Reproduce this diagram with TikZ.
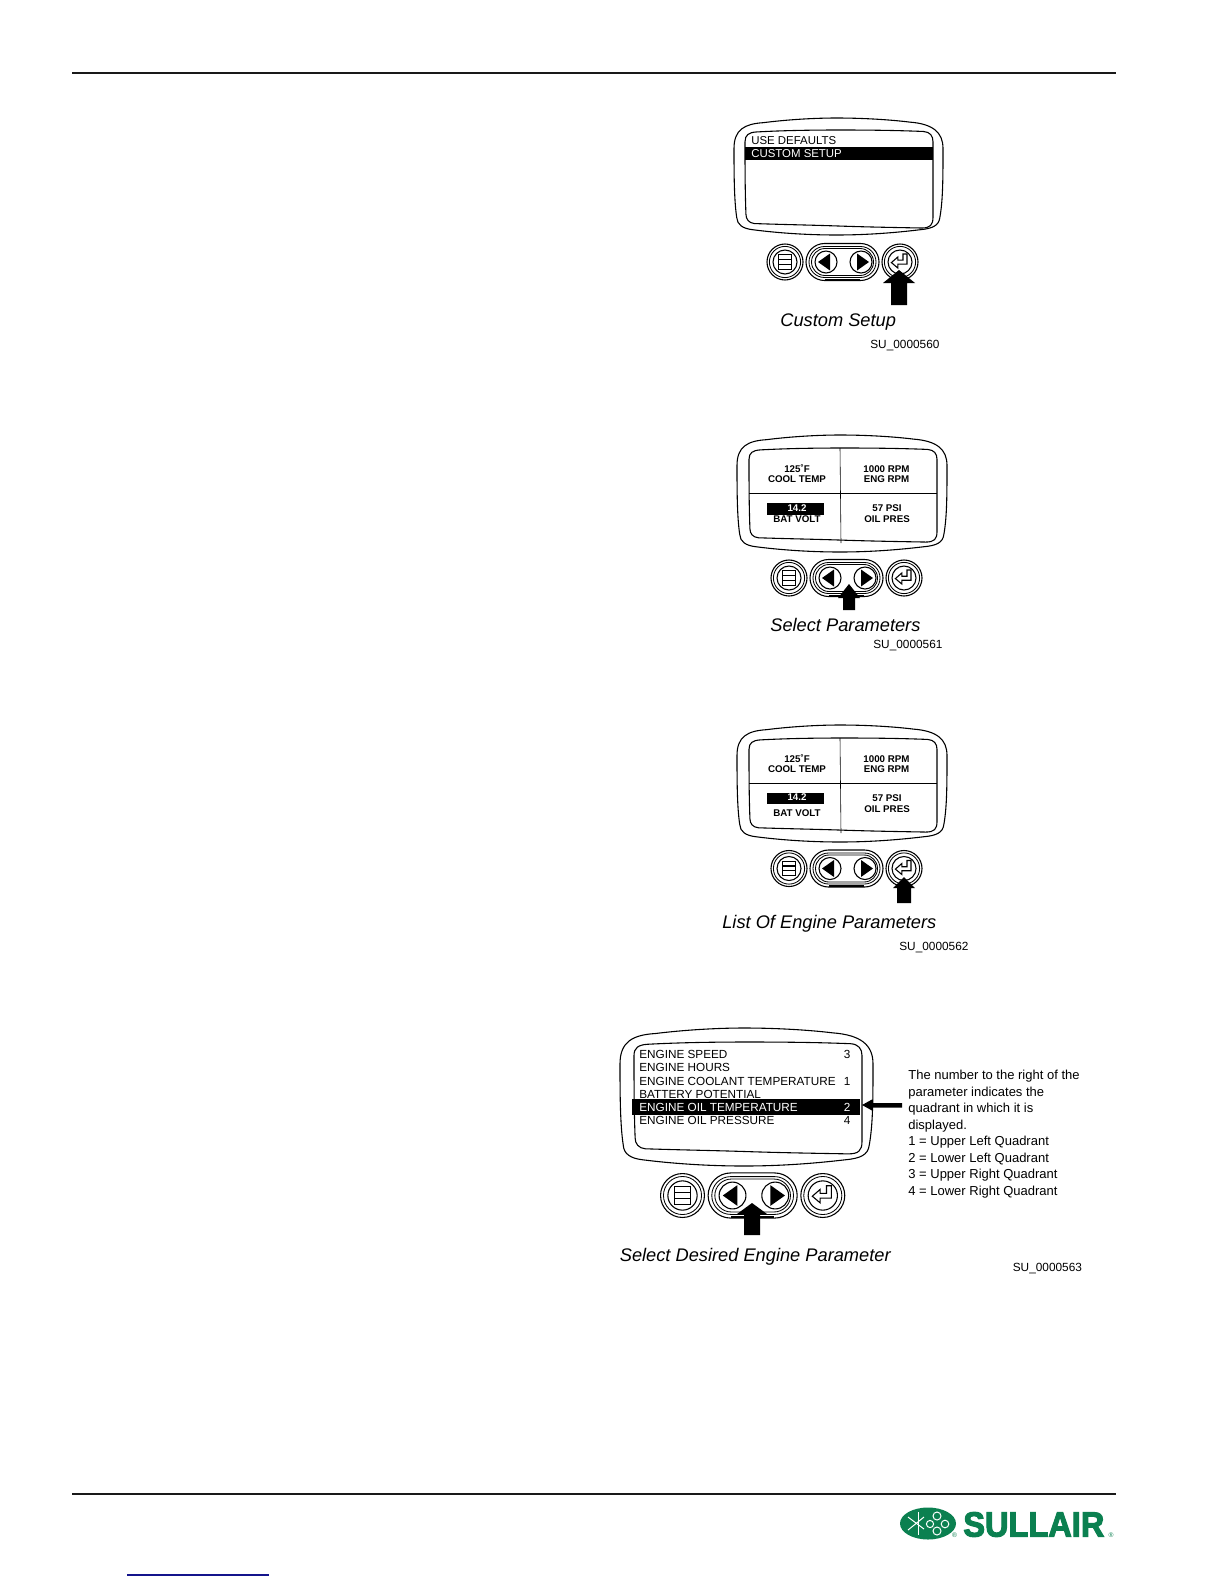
\documentclass[tikz,border=0pt]{standalone}
\usepackage{fontspec}
\setmainfont{Liberation Sans}
\newfontfamily\logofont[FakeBold=3.2]{Liberation Sans}
\definecolor{sullairgreen}{HTML}{0B8050}
\definecolor{linkblue}{HTML}{14148C}
\newcommand{\fsz}[1]{\fontsize{#1pt}{#1pt}\selectfont}
\tikzset{
  txt/.style={inner sep=0pt,anchor=west},
  menutxt/.style={txt,font=\fsz{6.85}},
  bigmenu/.style={txt,font=\fsz{7.05}},
  lcdtxt/.style={inner sep=0pt,font=\bfseries\fsz{5.85}},
  captxt/.style={inner sep=0pt,anchor=west,font=\itshape\fsz{10.95}},
  codetxt/.style={txt,font=\fsz{7.1}},
  notetxt/.style={txt,font=\fsz{7.8}},
  rim/.style={draw=black,line width=0.65pt,fill=white},
  rimthin/.style={draw=black,line width=0.5pt},
}
% bezel: x0 y0 x1 y1 (outer), x0 y0 x1 y1 (inner)
\newcommand{\bezel}[8]{%
  \begin{scope}[shift={(#1,#2)},xscale={#3-#1},yscale={#4-#2}]
    \draw[rim] (0,.26) .. controls (0,.10) and (.05,.05) .. (.14,.04)
      .. controls (.25,.015) and (.38,0) .. (.49,0)
      .. controls (.62,0) and (.75,.015) .. (.84,.035)
      .. controls (.95,.05) and (1,.12) .. (1,.26)
      .. controls (1,.50) and (1,.70) .. (.985,.85)
      .. controls (.98,.92) and (.95,.945) .. (.89,.955)
      .. controls (.75,.985) and (.62,1) .. (.49,1)
      .. controls (.36,1) and (.22,.985) .. (.09,.955)
      .. controls (.04,.945) and (.015,.91) .. (.013,.85)
      .. controls (0,.70) and (0,.45) .. (0,.26) -- cycle;
  \end{scope}
  \begin{scope}[shift={(#5,#6)},xscale={#7-#5},yscale={#8-#6}]
    \draw[rim] (0,.12) .. controls (0,.05) and (.02,.025) .. (.06,.02)
      .. controls (.2,.005) and (.35,0) .. (.5,0)
      .. controls (.65,0) and (.8,.003) .. (.95,.015)
      .. controls (.985,.02) and (1,.06) .. (1,.12)
      .. controls (1,.35) and (1,.65) .. (1,.88)
      .. controls (1,.96) and (.985,.99) .. (.94,.99)
      .. controls (.8,.985) and (.65,.98) .. (.5,.97)
      .. controls (.35,.96) and (.2,.955) .. (.05,.945)
      .. controls (.02,.94) and (.005,.9) .. (.005,.85)
      .. controls (0,.6) and (0,.35) .. (0,.12) -- cycle;
  \end{scope}}
% buttons: x of left button, y, scale
\newcommand{\buttons}[3]{%
  \begin{scope}[shift={(#1,#2)},scale=#3]
    \draw[rim] (0,0) circle[radius=18];
    \draw[rimthin] (0,0) circle[radius=15.6];
    \draw[rim] (0,0) circle[radius=12];
    \foreach \yy in {-7.2,-2.4,2.4}
      \draw[rimthin,fill=white] (-6.5,\yy) rectangle (6.5,\yy+4.6);
    \draw[rim,rounded corners=#3*18.5*0.6pt] (21,-18.5) rectangle (94,18.5);
    \draw[rimthin,rounded corners=#3*15.5*0.6pt] (24,-15.5) rectangle (91,15.5);
    \draw[rimthin,rounded corners=#3*13.5*0.6pt] (26.5,-13.5) rectangle (88.5,13.5);
    \draw[line width=1pt] (40,17.6) -- (75,17.6);
    \draw[rim] (41,0) circle[radius=11];
    \draw[rim] (76,0) circle[radius=11];
    \fill (33,0) -- (45,-8.5) -- (45,8.5) -- cycle;
    \fill (84,0) -- (72,-8.5) -- (72,8.5) -- cycle;
    \draw[rim] (115,0) circle[radius=18];
    \draw[rimthin] (115,0) circle[radius=15.6];
    \draw[rim] (115,0) circle[radius=12];
    \draw[draw=black,line width=0.65pt] (115-8.6,.6) -- (115-2.2,-5) -- (115-2.2,-1.8) -- (115+3,-1.8)
      -- (115+3,-8) -- (115+7,-8) -- (115+7,2.2) -- (115-2.2,2.2) -- (115-2.2,6) -- cycle;
  \end{scope}}
% up arrow: tip x, tip y, head base y, head half width, shaft half width, bottom y
\newcommand{\uparr}[6]{%
  \fill (#1,#2) -- (#1+#4,#3) -- (#1+#5,#3) -- (#1+#5,#6) -- (#1-#5,#6) -- (#1-#5,#3) -- (#1-#4,#3) -- cycle;}
% four quadrant lcd
\newcommand{\lcd}[5]{% dy, name prefix, y bat volt, y bar top, y bar bottom
  \draw[line width=0.35pt] (840,448+#1) -- (841,543+#1);
  \draw[line width=0.5pt] (749,493+#1) -- (937,493+#1);
  \fill (767,#4) rectangle (824,#5);
  \node[lcdtxt] (#2a) at (797,469+#1) {125˚F};
  \node[lcdtxt] (#2b) at (797,479.5+#1) {COOL TEMP};
  \node[lcdtxt] (#2c) at (886.5,469+#1) {1000 RPM};
  \node[lcdtxt] (#2d) at (886.5,479.5+#1) {ENG RPM};
  \node[lcdtxt,text=white] (#2e) at (797,#4/2+#5/2-1) {14.2};
  \node[lcdtxt] (#2f) at (797,#3) {BAT VOLT};
  \node[lcdtxt] (#2g) at (887,508.5+#1) {57 PSI};
  \node[lcdtxt] (#2h) at (887,519+#1) {OIL PRES};}
\begin{document}
\begin{tikzpicture}[x=0.6pt,y=-0.6pt]
\useasboundingbox (0,0) rectangle (1224,1584);
\fill[white] (0,0) rectangle (1224,1584);
% page rules
\draw[line width=1.1pt,color=black!90] (72,73) -- (1116,73);
\draw[line width=1.1pt,color=black!90] (72,1494) -- (1116,1494);
\draw[line width=0.65pt,linkblue] (127,1575) -- (269,1575);
% panel 1
\bezel{734}{118}{943}{235}{745}{130}{933}{229}
\fill (745,147) rectangle (933,160);
\node[menutxt] (p1a) at (751,140.6) {USE DEFAULTS};
\node[menutxt,text=white] (p1b) at (751,153.6) {CUSTOM SETUP};
\buttons{785}{262}{1}
\uparr{899}{270}{283}{16}{8}{305}
\node[captxt] (p1c) at (780,322.5) {Custom Setup};
\node[codetxt] (p1d) at (870,345.5) {SU\_0000560};
% panel 2
\bezel{737}{435}{947}{552}{749}{448}{937}{543}
\lcd{0}{p2}{519}{503}{515}
\buttons{789}{578}{1}
\uparr{849}{584}{598}{11}{6}{610}
\node[captxt] (p2c) at (770,624.5) {Select Parameters};
\node[codetxt] (p2d) at (873,645.5) {SU\_0000561};
% panel 3
\bezel{737}{725}{947}{842}{749}{738}{937}{833}
\lcd{290}{p3}{813}{792.5}{804}
\buttons{789}{868.5}{1}
\uparr{904}{877}{888}{11}{7}{903}
\node[captxt] (p3c) at (722,924) {List Of Engine Parameters};
\node[codetxt] (p3d) at (899,947.5) {SU\_0000562};
% panel 4
\bezel{620}{1028}{873}{1166}{634}{1042}{862}{1155}
\fill (632,1099) rectangle (860,1115);
\node[bigmenu] (p4a) at (639,1054) {ENGINE SPEED};
\node[bigmenu] (p4b) at (639,1067) {ENGINE HOURS};
\node[bigmenu] (p4c) at (639,1081) {ENGINE COOLANT TEMPERATURE};
\node[bigmenu] (p4d) at (639,1094) {BATTERY POTENTIAL};
\node[bigmenu,text=white] (p4e) at (639,1107) {ENGINE OIL TEMPERATURE};
\node[bigmenu] (p4f) at (639,1120) {ENGINE OIL PRESSURE};
\node[bigmenu] (p4g) at (843.5,1054) {3};
\node[bigmenu] (p4h) at (843.5,1081) {1};
\node[bigmenu,text=white] (p4i) at (843.5,1107) {2};
\node[bigmenu] (p4j) at (843.5,1120) {4};
\buttons{682.5}{1195.5}{1.22}
\uparr{752}{1203}{1214}{15}{8}{1235}
% side arrow
\fill (862,1105) -- (872,1099.5) -- (872,1103) -- (902,1103) -- (902,1107.5) -- (872,1107.5) -- (872,1110.5) -- cycle;
\node[captxt] (p4k) at (619.5,1256.5) {Select Desired Engine Parameter};
\node[codetxt] (p4l) at (1012.5,1269) {SU\_0000563};
\node[notetxt] (n1) at (908,1076) {The number to the right of the};
\node[notetxt] (n2) at (908,1093) {parameter indicates the};
\node[notetxt] (n3) at (908,1109.5) {quadrant in which it is};
\node[notetxt] (n4) at (908,1126) {displayed.};
\node[notetxt] (n5) at (908,1142.5) {1 = Upper Left Quadrant};
\node[notetxt] (n6) at (908,1159) {2 = Lower Left Quadrant};
\node[notetxt] (n7) at (908,1175.5) {3 = Upper Right Quadrant};
\node[notetxt] (n8) at (908,1192) {4 = Lower Right Quadrant};
% logo
\fill[sullairgreen] (928,1523.5) ellipse[x radius=28,y radius=16];
\begin{scope}[white,line width=0.6pt]
  \draw (908,1517) -- (924,1529);
  \draw (908,1530) -- (924,1517);
  \draw (918,1512) -- (918,1535);
  \draw[fill=sullairgreen] (930,1524) circle[radius=3.6];
  \draw[fill=sullairgreen] (937,1516) circle[radius=4];
  \draw[fill=sullairgreen] (937,1531) circle[radius=4];
  \draw[fill=sullairgreen] (945,1524) circle[radius=3.8];
\end{scope}
\node[inner sep=0pt,anchor=west,text=sullairgreen,font=\logofont\bfseries\fsz{21},xscale=0.93] (logo) at (963,1524.5) {SULLAIR};
\node[inner sep=0pt,text=sullairgreen,font=\fsz{4}] (r1) at (954.5,1535.5) {®};
\node[inner sep=0pt,text=sullairgreen,font=\fsz{4}] (r2) at (1111,1535.5) {®};
\end{tikzpicture}
\end{document}
